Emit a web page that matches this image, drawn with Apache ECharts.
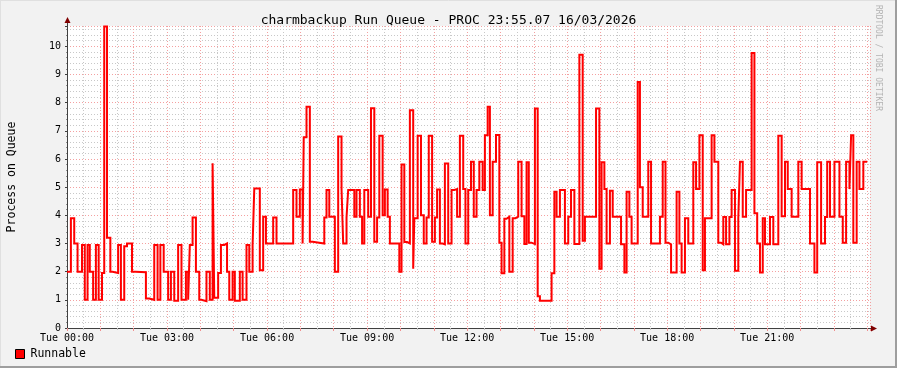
<!DOCTYPE html>
<html>
<head>
<meta charset="utf-8">
<script src="https://cdn.jsdelivr.net/npm/echarts@6/dist/echarts.min.js"></script>
<style>
html,body{margin:0;padding:0;background:#F2F2F2;}
#chart{width:897px;height:368px;}
</style>
</head>
<body>
<div id="chart"></div>
<script>
// Minutes since Tue 00:00 at which the run-queue value changes
const changeMinutes = [
  0,7,13,19,27,32,37,41,47,52,57,63,67,72,78,82,92,97,103,108,117,123,142,148,157,163,168,174,
  182,187,193,200,206,214,218,221,226,232,238,242,251,257,262,265,272,277,283,288,292,298,302,
  311,316,323,328,334,337,347,353,358,371,377,407,413,419,424,426,431,437,442,463,467,472,482,
  488,494,497,503,506,517,521,527,531,535,542,547,553,558,562,568,572,577,581,598,602,607,612,
  617,623,625,631,637,642,647,651,657,662,666,671,676,680,686,692,697,702,707,713,717,722,727,
  732,737,742,748,752,757,761,766,772,778,782,787,791,796,802,807,812,818,823,827,831,836,842,
  847,851,872,877,881,887,896,902,907,913,922,928,932,952,958,962,967,971,977,982,997,1003,1007,
  1012,1016,1027,1031,1036,1046,1051,1067,1072,1077,1082,1087,1097,1102,1106,1112,1118,1127,
  1132,1138,1144,1148,1160,1165,1172,1177,1181,1186,1192,1196,1202,1208,1211,1216,1222,1232,
  1237,1242,1247,1252,1256,1265,1271,1280,1286,1292,1297,1304,1316,1322,1337,1345,1350,1357,
  1364,1368,1373,1381,1390,1396,1402,1408,1411,1415,1421,1426,1433,1440
];
// Runnable processes held from each change time until the next one
const runnable = [
  2.0,3.9,3.0,2.0,2.95,1.0,2.95,2.0,1.0,2.95,1.0,1.95,10.7,3.2,2.0,1.95,2.95,1.0,2.9,3.0,2.0,1.98,1.05,1.0,2.95,1.0,2.95,2.0,
  1.0,2.0,0.97,2.95,1.0,2.0,1.0,2.95,3.92,2.0,1.0,0.95,2.0,1.0,5.85,1.07,1.95,2.95,3.0,2.0,1.0,2.0,0.97,
  2.0,1.0,2.95,2.0,2.95,4.95,2.05,3.95,3.0,3.92,3.0,4.9,3.95,4.92,3.0,6.77,7.85,3.06,3.0,3.92,4.9,3.95,2.0,
  6.8,4.95,3.0,3.92,4.9,3.95,4.9,3.95,3.0,4.9,3.95,7.8,3.06,3.92,6.82,4.0,4.92,3.95,3.0,2.0,5.8,3.05,3.0,
  7.73,2.1,3.9,6.82,4.0,3.0,3.92,6.82,3.06,3.92,4.92,3.0,2.97,5.84,3.0,4.9,4.93,3.95,6.82,4.93,3.0,4.9,5.9,
  3.95,4.9,5.9,4.9,6.84,7.85,4.0,5.9,6.85,3.03,1.94,3.88,3.95,2.0,3.9,3.95,5.9,3.97,2.98,5.88,3.03,2.98,7.79,
  1.13,0.97,1.94,4.84,3.95,4.9,3.0,3.95,4.9,2.98,9.7,3.1,3.95,7.79,2.1,5.88,4.93,3.0,4.87,3.95,2.97,1.97,4.84,
  3.95,3.0,8.73,5.0,3.95,5.9,3.0,3.95,5.9,3.03,2.97,1.97,4.84,3.0,1.97,3.9,3.0,5.88,
  4.93,6.84,2.05,3.9,6.84,5.9,3.03,2.97,3.94,2.97,3.94,4.9,2.03,3.9,5.9,3.95,4.9,9.76,
  4.07,3.0,1.97,3.9,2.97,3.94,2.97,6.82,3.97,5.9,4.93,3.95,5.9,4.93,3.0,1.97,5.88,3.0,
  3.94,5.9,3.95,5.9,3.95,3.03,5.9,4.93,6.84,3.03,5.9,4.93,5.9,5.9
];
const xTickLabels = ['Tue 00:00','Tue 03:00','Tue 06:00','Tue 09:00','Tue 12:00','Tue 15:00','Tue 18:00','Tue 21:00'];
const yTickLabels = ['0','1','2','3','4','5','6','7','8','9','10'];
const seriesName = 'Runnable';
const titleText = 'charmbackup Run Queue - PROC 23:55.07 16/03/2026';
const yAxisTitle = 'Process on Queue';
const sideNote = 'RRDTOOL / TOBI OETIKER';

const MONO = "'DejaVu Sans Mono', monospace";
const chart = echarts.init(document.getElementById('chart'), null, {renderer: 'canvas'});
const data = changeMinutes.map((t, i) => [t, runnable[i]]);

const gridL = 67, gridR = 27, gridT = 26, gridB = 40;
const W = 897, H = 368;

chart.setOption({
  animation: false,
  backgroundColor: '#F2F2F2',
  title: {
    text: titleText, left: 'center', top: 9,
    textStyle: {fontFamily: MONO, fontSize: 13, fontWeight: 'normal', color: '#000'}
  },
  legend: {
    data: [seriesName], left: 15, top: 348, padding: 0, icon: 'rect', itemWidth: 9, itemHeight: 9, itemGap: 6,
    itemStyle: {color: '#FF0000', borderColor: '#000', borderWidth: 1},
    textStyle: {fontFamily: MONO, fontSize: 11.5, color: '#000', padding: [0,0,0,1]}
  },
  grid: {left: gridL, right: gridR, top: gridT, bottom: gridB, show: true, backgroundColor: '#FFFFFF', borderWidth: 0,
    containLabel: false, outerBoundsMode: 'none'},
  xAxis: {
    type: 'value', min: 0, max: 1445, interval: 60,
    axisLine: {show: true, lineStyle: {color: '#404040', width: 1}},
    axisTick: {show: true, length: 3, lineStyle: {color: '#F09090'}},
    minorTick: {show: true, splitNumber: 2, length: 2, lineStyle: {color: '#C0C0C0'}},
    axisLabel: {
      fontFamily: MONO, fontSize: 10, color: '#000', margin: 5, showMaxLabel: false,
      formatter: v => (v % 180 === 0 && v / 180 < xTickLabels.length) ? xTickLabels[v / 180] : ''
    },
    splitLine: {show: true, lineStyle: {color: '#F4A0A0', width: 1, type: [1, 2]}},
    minorSplitLine: {show: true, lineStyle: {color: '#C8C8C8', width: 1, type: [1, 2]}}
  },
  yAxis: {
    type: 'value', min: 0, max: 10.72, interval: 1,
    name: yAxisTitle, nameLocation: 'middle', nameGap: 49, nameRotate: 90,
    nameTextStyle: {fontFamily: MONO, fontSize: 11.5, color: '#000'},
    axisLine: {show: true, lineStyle: {color: '#404040', width: 1}},
    axisTick: {show: true, length: 2, lineStyle: {color: '#404040'}},
    minorTick: {show: true, splitNumber: 5, length: 1, lineStyle: {color: '#909090'}},
    axisLabel: {
      fontFamily: MONO, fontSize: 10, color: '#000', margin: 6, showMaxLabel: false,
      formatter: v => {
        const r = Math.round(v);
        return (Math.abs(v - r) < 1e-6 && r >= 0 && r < yTickLabels.length) ? yTickLabels[r] : '';
      }
    },
    splitLine: {show: true, lineStyle: {color: '#F4A0A0', width: 1, type: [1, 2]}},
    minorSplitLine: {show: true, lineStyle: {color: '#C8C8C8', width: 1, type: [1, 2]}}
  },
  series: [{
    name: seriesName, type: 'line', step: 'end', data: data,
    showSymbol: false, symbol: 'none',
    itemStyle: {color: '#FF0000'},
    lineStyle: {color: '#FF0000', width: 2, join: 'miter'},
    z: 5
  }],
  graphic: [
    {type: 'line', shape: {x1: 0, y1: 0.5, x2: W, y2: 0.5}, style: {stroke: '#E0E0E0', lineWidth: 1}, silent: true},
    {type: 'line', shape: {x1: 0.5, y1: 0, x2: 0.5, y2: H}, style: {stroke: '#E0E0E0', lineWidth: 1}, silent: true},
    {type: 'line', shape: {x1: 0, y1: H - 1, x2: W, y2: H - 1}, style: {stroke: '#9E9E9E', lineWidth: 2}, silent: true},
    {type: 'line', shape: {x1: W - 1, y1: 0, x2: W - 1, y2: H}, style: {stroke: '#9E9E9E', lineWidth: 2}, silent: true},
    {type: 'line', shape: {x1: gridL + 0.5, y1: gridT, x2: gridL + 0.5, y2: 22}, style: {stroke: '#404040', lineWidth: 1}, silent: true, z: 10},
    {type: 'polygon', shape: {points: [[gridL - 2.5, 23], [gridL + 3.5, 23], [gridL + 0.5, 17]]}, style: {fill: '#800000'}, silent: true, z: 10},
    {type: 'line', shape: {x1: W - gridR, y1: H - gridB + 0.5, x2: W - gridR + 3, y2: H - gridB + 0.5}, style: {stroke: '#404040', lineWidth: 1}, silent: true, z: 10},
    {type: 'polygon', shape: {points: [[W - gridR + 1, H - gridB - 2.5], [W - gridR + 1, H - gridB + 3.5], [W - gridR + 7, H - gridB + 0.5]]}, style: {fill: '#800000'}, silent: true, z: 10},
    {type: 'text', x: 882, y: 5, rotation: -Math.PI / 2,
      style: {text: sideNote, fontFamily: MONO, fontSize: 8, fill: '#B4B4B4', textAlign: 'left', textVerticalAlign: 'top'}, silent: true}
  ]
});
</script>
</body>
</html>
